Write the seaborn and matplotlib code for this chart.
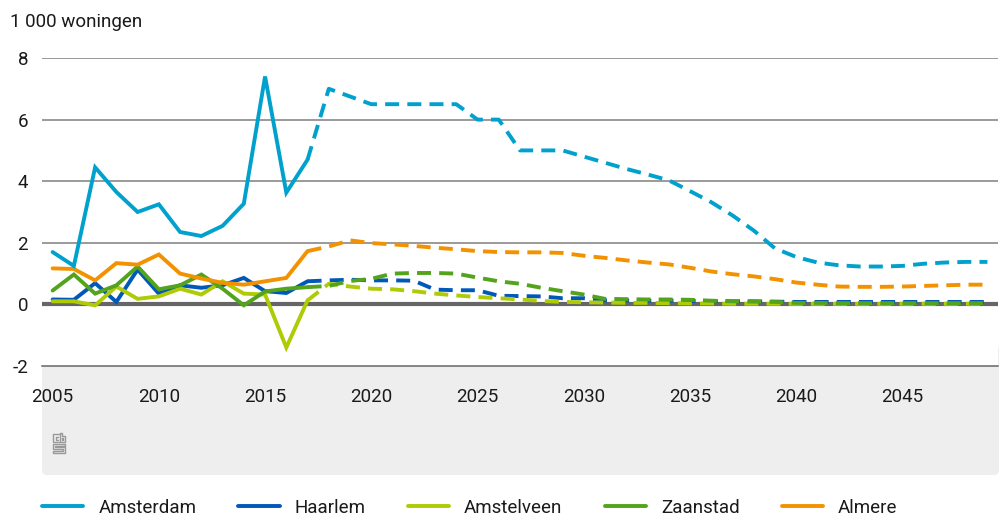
import seaborn as sns
import matplotlib.pyplot as plt
from matplotlib.lines import Line2D
from matplotlib.patches import FancyBboxPatch
from matplotlib.transforms import IdentityTransform


sns.set_style("white")
plt.rcParams["font.family"] = ["Roboto", "DejaVu Sans"]
plt.rcParams["axes.unicode_minus"] = False

# data (1 000 woningen per jaar)
cities = ["Amsterdam", "Haarlem", "Amstelveen", "Zaanstad", "Almere"]
colors = ["#00a1cd", "#0058b8", "#afcb05", "#53a31d", "#f39200"]

years_hist = list(range(2005, 2018))
years_prog = list(range(2017, 2050))

hist = {
    "Amsterdam": [1.7, 1.25, 4.45, 3.65, 3.0, 3.25, 2.35, 2.22, 2.55, 3.27, 7.4, 3.63, 4.7],
    "Haarlem": [0.16, 0.15, 0.69, 0.08, 1.13, 0.35, 0.62, 0.54, 0.62, 0.86, 0.43, 0.37, 0.75],
    "Amstelveen": [0.1, 0.1, -0.03, 0.58, 0.18, 0.26, 0.51, 0.32, 0.75, 0.35, 0.32, -1.4, 0.13],
    "Zaanstad": [0.45, 0.97, 0.35, 0.62, 1.23, 0.49, 0.62, 0.97, 0.51, -0.03, 0.42, 0.51, 0.56],
    "Almere": [1.17, 1.15, 0.78, 1.34, 1.29, 1.62, 1.0, 0.84, 0.7, 0.64, 0.75, 0.86, 1.73],
}

prog = {
    "Amsterdam": [4.7, 7.0, 6.75, 6.5, 6.5, 6.5, 6.5, 6.5, 6.0, 6.0, 5.0, 5.0, 5.0,
                  4.8, 4.6, 4.4, 4.22, 4.03, 3.68, 3.32, 2.89, 2.4, 1.82, 1.54,
                  1.36, 1.27, 1.23, 1.23, 1.25, 1.32, 1.36, 1.38, 1.38],
    "Haarlem": [0.75, 0.78, 0.8, 0.78, 0.78, 0.77, 0.48, 0.46, 0.46, 0.28, 0.27, 0.26,
                0.2, 0.2, 0.13, 0.13, 0.12, 0.12, 0.11, 0.11, 0.1, 0.1, 0.09, 0.08,
                0.08, 0.08, 0.08, 0.08, 0.08, 0.08, 0.08, 0.08, 0.08],
    "Amstelveen": [0.13, 0.67, 0.58, 0.51, 0.49, 0.43, 0.35, 0.29, 0.24, 0.2, 0.16,
                   0.11, 0.08, 0.07, 0.06, 0.05, 0.05, 0.04, 0.03, 0.03, 0.02, 0.02,
                   0.02, 0.02, 0.02, 0.02, 0.02, 0.02, 0.02, 0.02, 0.02, 0.02, 0.02],
    "Zaanstad": [0.56, 0.6, 0.76, 0.83, 1.0, 1.02, 1.02, 1.0, 0.87, 0.75, 0.67, 0.54,
                 0.43, 0.32, 0.18, 0.17, 0.16, 0.16, 0.15, 0.12, 0.1, 0.09, 0.08,
                 0.05, 0.05, 0.04, 0.04, 0.04, 0.04, 0.04, 0.04, 0.04, 0.04],
    "Almere": [1.73, 1.88, 2.08, 1.99, 1.95, 1.9, 1.84, 1.79, 1.73, 1.7, 1.69, 1.69,
               1.67, 1.58, 1.51, 1.43, 1.36, 1.3, 1.19, 1.07, 0.98, 0.91, 0.82, 0.71,
               0.64, 0.58, 0.57, 0.57, 0.58, 0.6, 0.62, 0.64, 0.64],
}

xticks = [2005, 2010, 2015, 2020, 2025, 2030, 2035, 2040, 2045]
yticks = [-2, 0, 2, 4, 6, 8]

W, H = 999, 518
fs = 13.5
fig = plt.figure(figsize=(W / 100, H / 100), dpi=100)
ax = fig.add_axes([42 / W, 1 - 366 / H, (998 - 42) / W, (366 - 58) / H])


def px(x, y):
    # pixel from top-left -> figure fraction
    return x / W, 1 - y / H


# grey panel below the axis
panel = FancyBboxPatch((42, H - 475), 957, 130, boxstyle="round,pad=0,rounding_size=5",
                       transform=IdentityTransform(), facecolor="#eeeeee",
                       edgecolor="none", zorder=-1)
fig.patches.append(panel)

# grid + zero line
for v in yticks[2:]:
    ax.axhline(v, color="#9a9a9a", lw=1.4, zorder=1)
ax.axhline(0, color="#666666", lw=3, zorder=2)

lw = 2.8
draw_order = ["Haarlem", "Amstelveen", "Zaanstad", "Almere", "Amsterdam"]
for name in draw_order:
    c = colors[cities.index(name)]
    sns.lineplot(x=years_hist, y=hist[name], color=c, lw=lw, ax=ax, legend=False,
                 zorder=3, solid_joinstyle="miter")
    sns.lineplot(x=years_prog, y=prog[name], color=c, lw=lw, ax=ax, legend=False,
                 zorder=3, linestyle=(0, (3.6, 2.1)), dash_capstyle="butt")

ax.set_xlim(2004.5, 2049.5)
ax.set_ylim(-2, 8)
ax.set_xticks(xticks)
ax.set_yticks(yticks)
ax.set_xlabel("")
ax.set_ylabel("")
ax.patch.set_facecolor("white")

for s in ["top", "right", "left"]:
    ax.spines[s].set_visible(False)
ax.spines["bottom"].set_color("#666666")
ax.spines["bottom"].set_linewidth(1.1)

ax.tick_params(axis="x", length=11.5, width=1.1, color="#c8c8c8", pad=4,
               labelsize=fs, labelcolor="#1a1a1a")
ax.tick_params(axis="y", length=0, pad=10, labelsize=fs, labelcolor="#1a1a1a")

fig.text(*px(10, 22), "1 000 woningen", fontsize=fs, color="#1a1a1a", va="center")

# small cbs logo
logo = [
    [(59, 434), (53, 434), (53, 442), (59, 442)],
    [(58, 436.5), (55.5, 436.5), (55.5, 439.5), (58, 439.5)],
    [(60, 433), (60, 442), (65, 442), (65, 436), (62, 436), (62, 433), (60, 433)],
    [(62, 438), (63, 438), (63, 440), (62, 440), (62, 438)],
    [(65, 444), (53, 444), (53, 449), (63, 449), (63, 451), (53, 451), (53, 453), (65, 453),
     (65, 447), (55, 447), (55, 446), (65, 446), (65, 444)],
]
for pts in logo:
    xs = [px(p[0], p[1])[0] for p in pts]
    ys = [px(p[0], p[1])[1] for p in pts]
    fig.add_artist(Line2D(xs, ys, color="#999999", lw=1.0))

handles = [Line2D([], [], color=c, lw=lw) for c in colors]
fig.legend(handles, cities, loc="center left", bbox_to_anchor=px(42, 508), ncol=5,
           frameon=False, fontsize=fs, handlelength=2.2, handletextpad=0.8,
           columnspacing=2.25, borderpad=0, borderaxespad=0, labelcolor="#1a1a1a")

fig.savefig("out.png", dpi=100)
